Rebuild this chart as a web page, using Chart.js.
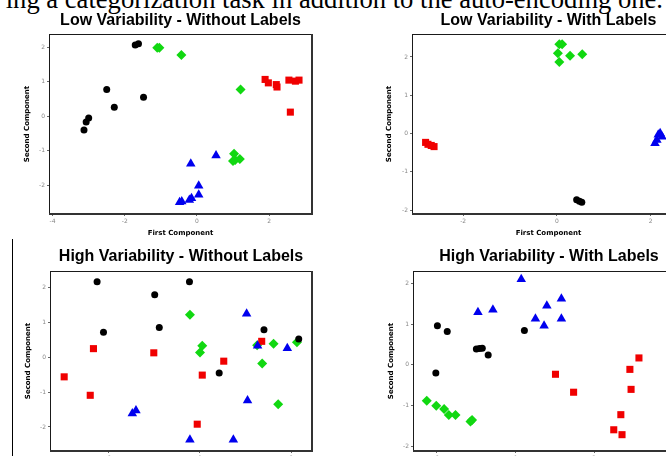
<!DOCTYPE html>
<html>
<head>
<meta charset="utf-8">
<script src="https://cdn.jsdelivr.net/npm/chart.js@4.4.0/dist/chart.umd.min.js"></script>
<style>
  html, body { margin: 0; padding: 0; background: #fff; }
  body { width: 666px; height: 456px; overflow: hidden; position: relative; }
  .caption { position: absolute; right: 3px; top: -14px; font: 26.6px/27px "Liberation Serif", "Times New Roman", serif; white-space: nowrap; color: #000; }
  .rule { position: absolute; left: 12px; top: 239px; width: 1px; height: 217px; background: #000; }
  canvas { position: absolute; }
</style>
</head>
<body>
<div class="caption">ing a categorization task in addition to the auto-encoding one.</div>
<div class="rule"></div>
<canvas id="lowNo" width="330" height="245" style="left:0;top:0"></canvas>
<canvas id="lowWith" width="370" height="245" style="left:330px;top:0"></canvas>
<canvas id="highNo" width="330" height="260" style="left:0;top:230px"></canvas>
<canvas id="highWith" width="370" height="260" style="left:330px;top:230px"></canvas>
<script>
// [first component, second component] per group
const lowNoBlack = [[-1.71,2.07],[-1.62,2.11],[-2.50,0.78],[-2.29,0.26],[-1.48,0.55],[-3.00,-0.05],[-3.07,-0.17],[-3.13,-0.40]];
const lowNoGreen = [[-1.10,1.99],[-1.04,1.99],[-0.43,1.78],[1.21,0.78],[1.03,-1.09],[1.06,-1.27],[1.19,-1.24],[1.00,-1.30]];
const lowNoRed = [[1.89,1.07],[1.98,0.97],[2.20,0.92],[2.22,0.85],[2.55,1.05],[2.73,1.02],[2.83,1.05],[2.59,0.12]];
const lowNoBlue = [[0.53,-1.14],[-0.17,-1.38],[0.05,-2.02],[0.05,-2.28],[-0.15,-2.38],[-0.21,-2.43],[-0.42,-2.48],[-0.48,-2.50]];

const lowWithGreen = [[0.05,2.33],[0.11,2.33],[0.02,2.10],[0.28,2.03],[0.54,2.07],[0.05,1.87]];
const lowWithRed = [[-2.80,-0.23],[-2.75,-0.28],[-2.68,-0.31],[-2.62,-0.34]];
const lowWithBlack = [[0.42,-1.73],[0.48,-1.77],[0.53,-1.79]];
const lowWithBlue = [[2.16,-0.03],[2.20,0.01],[2.09,-0.25],[2.13,-0.17],[2.24,-0.08]];

const highNoBlack = [[-2.25,2.17],[-0.23,2.17],[-0.99,1.80],[-2.11,0.72],[-0.89,0.86],[1.40,0.79],[0.42,-0.45],[2.16,0.53]];
const highNoRed = [[-2.97,-0.56],[-2.33,0.25],[-2.40,-1.09],[-1.01,0.13],[0.05,-0.51],[0.52,-0.11],[1.35,0.46],[-0.06,-1.92]];
const highNoGreen = [[-0.22,1.22],[0.05,0.33],[0.00,0.14],[1.61,0.39],[1.36,-0.18],[1.71,-1.35],[2.12,0.43],[1.25,0.35]];
const highNoBlue = [[1.02,1.25],[1.26,0.33],[1.91,0.26],[1.04,-1.24],[-1.40,-1.53],[-1.48,-1.61],[-0.22,-2.37],[0.73,-2.37]];

const highWithBlue = [[0.15,2.10],[-0.95,1.29],[-0.57,1.35],[0.51,1.13],[0.73,0.96],[0.80,1.45],[1.17,1.62],[1.17,1.13]];
const highWithBlack = [[-1.98,0.96],[-1.73,0.82],[-0.99,0.39],[-0.84,0.41],[-0.91,0.40],[-0.69,0.24],[-2.02,-0.20],[0.23,0.84]];
const highWithGreen = [[-2.25,-0.88],[-2.01,-1.00],[-1.81,-1.08],[-1.69,-1.23],[-1.52,-1.23],[-1.14,-1.39],[-1.10,-1.35]];
const highWithRed = [[1.02,-0.23],[1.48,-0.67],[2.91,-0.11],[3.14,0.17],[2.94,-0.60],[2.68,-1.22],[2.50,-1.59],[2.71,-1.71]];

const xTicksLowNo = [-4, -2, 0, 2];
const xTicksLowWith = [-2, 0, 2];
const xTicksHighNo = [-2, 0, 2];
const xTicksHighWith = [-2, 0, 2, 4];
const yTicks = [-2, -1, 0, 1, 2];

// box around the plot area, heavier on the right and bottom
const frame = {
  id: 'frame',
  beforeDatasetsDraw(chart) {
    const { ctx, chartArea: a } = chart;
    ctx.save();
    ctx.strokeStyle = '#1a1a1a';
    ctx.lineWidth = 1;
    ctx.strokeRect(a.left + 0.5, a.top + 0.5, a.right - a.left - 1, a.bottom - a.top - 1);
    ctx.lineWidth = 2;
    ctx.strokeStyle = '#333';
    ctx.beginPath();
    ctx.moveTo(a.right, a.top);
    ctx.lineTo(a.right, a.bottom);
    ctx.lineTo(a.left, a.bottom);
    ctx.stroke();
    ctx.restore();
  }
};

function group(points, color, shape, radius) {
  return {
    data: points.map(p => ({ x: p[0], y: p[1] })),
    backgroundColor: color,
    borderColor: color,
    borderWidth: 0,
    pointStyle: shape,
    pointRadius: radius,
  };
}

function axis(min, max, ticks, size, label) {
  return {
    type: 'linear',
    min: min,
    max: max,
    afterBuildTicks: s => { s.ticks = ticks.map(v => ({ value: v })); },
    afterFit: s => { if (s.isHorizontal()) s.height = size; else s.width = size; },
    grid: { drawOnChartArea: false, tickLength: 2, color: '#666' },
    border: { display: false },
    ticks: { color: '#888', padding: 2, autoSkip: false, maxRotation: 0, font: { family: 'DejaVu Sans', size: 6 } },
    title: { display: true, text: label, color: '#000', padding: 0, font: { family: 'DejaVu Sans', size: 7, weight: 'bold' } },
  };
}

function panel(id, cfg) {
  new Chart(document.getElementById(id), {
    type: 'scatter',
    data: {
      datasets: [
        group(cfg.blue, '#0000ee', 'triangle', 5.5),
        group(cfg.red, '#f00000', 'rect', 5),
        group(cfg.black, '#000000', 'circle', 3.5),
        group(cfg.green, '#11d811', 'rectRot', 5),
      ]
    },
    options: {
      responsive: false,
      animation: false,
      devicePixelRatio: 1,
      layout: { padding: cfg.pad },
      plugins: {
        legend: { display: false },
        tooltip: { enabled: false },
        title: {
          display: true,
          text: cfg.title,
          fullSize: false,
          color: '#000',
          font: { family: 'Liberation Sans', size: 16, weight: 'bold' },
          padding: cfg.titlePad,
        },
      },
      scales: {
        x: axis(cfg.x[0], cfg.x[1], cfg.xTicks, 23, 'First Component'),
        y: axis(cfg.y[0], cfg.y[1], yTicks, cfg.yWidth, 'Second Component'),
      }
    },
    plugins: [frame]
  });
}

panel('lowNo', {
  title: 'Low Variability - Without Labels',
  black: lowNoBlack, green: lowNoGreen, red: lowNoRed, blue: lowNoBlue,
  x: [-4.10, 3.19], y: [-2.84, 2.39], xTicks: xTicksLowNo,
  pad: { left: 23, right: 18, top: 0, bottom: 8 }, yWidth: 26,
  titlePad: { top: 11.4, bottom: 3.4 },
});

panel('lowWith', {
  title: 'Low Variability - With Labels',
  black: lowWithBlack, green: lowWithGreen, red: lowWithRed, blue: lowWithBlue,
  x: [-3.09, 2.73], y: [-2.10, 2.60], xTicks: xTicksLowWith,
  pad: { left: 55, right: 15, top: 0, bottom: 8 }, yWidth: 27,
  titlePad: { top: 11.4, bottom: 3.4 },
});

panel('highNo', {
  title: 'High Variability - Without Labels',
  black: highNoBlack, green: highNoGreen, red: highNoRed, blue: highNoBlue,
  x: [-3.28, 2.45], y: [-2.69, 2.48], xTicks: xTicksHighNo,
  pad: { left: 24, right: 18, top: 0, bottom: 16 }, yWidth: 26,
  titlePad: { top: 17.4, bottom: 4.4 },
});

panel('highWith', {
  title: 'High Variability - With Labels',
  black: highWithBlack, green: highWithGreen, red: highWithRed, blue: highWithBlue,
  x: [-2.60, 4.31], y: [-2.11, 2.30], xTicks: xTicksHighWith,
  pad: { left: 57, right: 15, top: 0, bottom: 16 }, yWidth: 26,
  titlePad: { top: 17.4, bottom: 4.4 },
});
</script>
</body>
</html>
